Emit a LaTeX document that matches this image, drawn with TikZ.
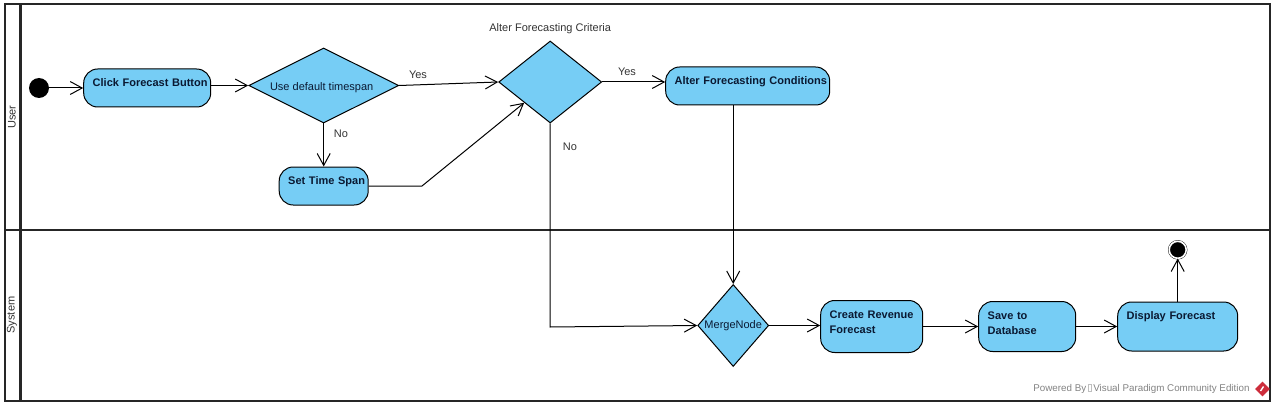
\documentclass[tikz,border=0pt]{standalone}
\usepackage{fontspec}
\setmainfont{Liberation Sans}
\usetikzlibrary{positioning}
\usetikzlibrary{shapes.geometric}
\usetikzlibrary{arrows.meta}
\definecolor{nodeblue}{RGB}{118,205,245}
\definecolor{textnavy}{RGB}{10,25,50}
\definecolor{markgrey}{RGB}{130,130,130}
\definecolor{logored}{RGB}{205,45,60}
\tikzset{action node/.style={rectangle,draw,line width=1pt,fill=nodeblue,rounded corners=14pt,align=left,inner xsep=9pt,inner ysep=0pt,text width=#1*1pt-19pt,text=textnavy,font=\fontsize{11}{15}\selectfont\bfseries},
  decision node/.style={diamond,draw,line width=1pt,fill=nodeblue,inner sep=0pt,text=textnavy,font=\fontsize{11}{14}\selectfont},
  flow/.style={line width=1pt,-{Straight Barb[length=12pt,width=13pt]}},
  lane/.style={line width=#1,draw=black!85},
  flow label/.style={text=black!80,font=\fontsize{11}{13}\selectfont},}

\begin{document}
\begin{tikzpicture}[x=1pt,y=1pt]
  \useasboundingbox (0,0) rectangle (1274,405);
  % lanes
  \draw[lane=2pt] (4.5,4.5) rectangle (1269.5,400.5);
  \draw[lane=3pt] (20,4.5) -- (20,400.5);
  \draw[lane=2.6pt] (4.5,175) -- (1269.5,175);
  \node[flow label,rotate=90] (user) at (12,288) {User};
  \node[flow label,rotate=90] (system) at (12,90) {System};

  \node[circle,fill=black,minimum size=20pt,inner sep=0pt] (init) at (39,317) {};
  \node[action node=128,minimum height=38pt] (click) [right = 34 of init] {\mbox{Click Forecast Button}\\[-5pt] ~};
  \node[decision node,aspect=2,minimum width=150pt,minimum height=75pt,label={[decision node,draw=none,fill=none,xshift=-2,yshift=-2]center:Use default timespan}] (timespan) [right = 37 of click,yshift=2.5] {};
  \node[action node=90,minimum height=38pt] (setspan) [below = 43 of timespan] {\mbox{Set Time Span}\\[-5pt] ~};
  \node[decision node,aspect=1.25,minimum width=103pt,minimum height=82pt] (criteria) [right = 99 of timespan,yshift=3.5] {};
  \node[flow label] (criterialabel) [above = 3 of criteria] {Alter Forecasting Criteria};
  \node[action node=165,minimum height=38pt] (alter) [right = 63 of criteria,yshift=-4] {\mbox{Alter Forecasting Conditions}\\[-5pt] ~};
  \node[decision node,aspect=0.87,minimum width=71pt,minimum height=82pt,label={[decision node,draw=none,fill=none]center:MergeNode}] (merge) [below = 178.5 of alter,xshift=-14.5] {};
  \node[action node=103,minimum height=52pt] (create) [right = 51 of merge,yshift=-1] {Create Revenue\\ Forecast\\[-6pt] ~};
  \node[action node=98,minimum height=50pt] (save) [right = 55 of create] {Save to\\ Database\\[-8pt] ~};
  \node[action node=121,minimum height=49pt] (display) [right = 41 of save] {Display Forecast\\ ~\\[-9pt] ~};
  \node[circle,draw=black,fill=black,double=white,double distance=1.6pt,minimum size=17pt,inner sep=0pt] (final) [above = 43 of display] {};

  \coordinate (bend) at (422,219);
  \coordinate (corner) at (criteria.south |- 0,78);

  \draw[flow] (init) -- (click);
  \draw[flow] (click.east |- timespan.west) -- (timespan.west);
  \draw[flow] (timespan.east) -- (criteria.west);
  \draw[flow] (timespan.south) -- (setspan.north);
  \draw[flow] (setspan.east) -- (bend) -- (criteria.south west);
  \draw[flow] (criteria.east) -- (criteria.east -| alter.west);
  \draw[flow] (criteria.south) -- (corner) -- (merge.west);
  \draw[flow] (merge.north |- alter.south) -- (merge.north);
  \draw[flow] (merge.east) -- (merge.east -| create.west);
  \draw[flow] (create.east) -- (save.west);
  \draw[flow] (save.east) -- (display.west);
  \draw[flow] (display.north) -- (final.south);

  \node[flow label] (yes1) at (418,330) {Yes};
  \node[flow label] (no1) at (341,271) {No};
  \node[flow label] (yes2) at (627,333) {Yes};
  \node[flow label] (no2) at (570,258) {No};

  \node[text=markgrey,font=\fontsize{9.8}{12}\selectfont,anchor=east] (powered) at (1253,16) {Powered By\,\raisebox{0.5pt}{\fboxsep=0pt\fcolorbox{black!25}{white}{\rule{0pt}{7pt}\hspace{3pt}}}\,Visual Paradigm Community Edition};
  \node[diamond,fill=logored,minimum size=15pt,inner sep=0pt] (logo) at (1262.5,16) {};
  \draw[white,line width=1.4pt] (logo.center) ++(-2,-2) -- ++(3,4.5);
\end{tikzpicture}
\end{document}
